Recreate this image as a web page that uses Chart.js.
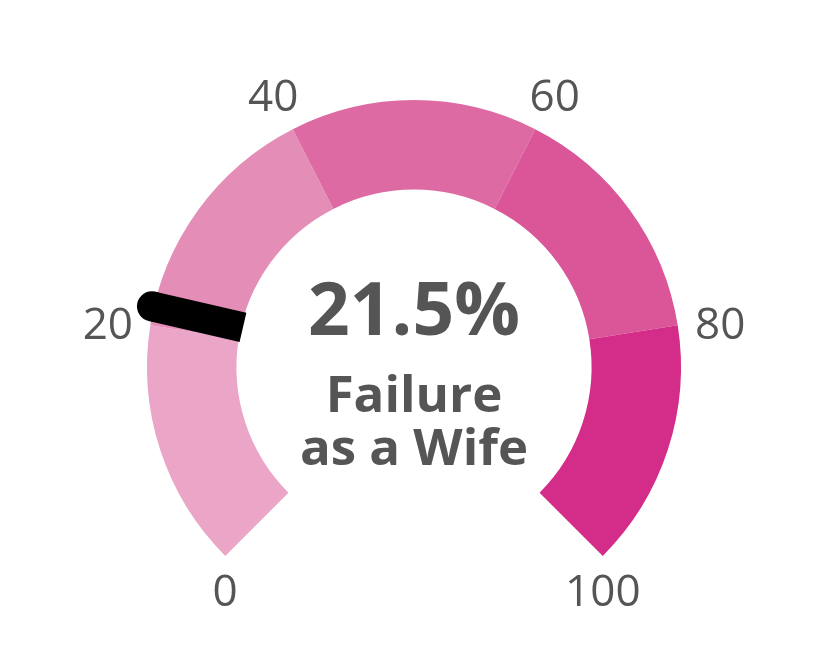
<!DOCTYPE html>
<html>
<head>
<meta charset="utf-8">
<script src="https://cdn.jsdelivr.net/npm/chart.js@4"></script>
<style>
  body { margin: 0; background: #fff; }
  #wrap { width: 828px; height: 672px; }
</style>
</head>
<body>
<div id="wrap"><canvas id="gauge"></canvas></div>
<script>
// gauge data
var bands = [20, 20, 20, 20, 20];
var bandColors = ["#EAA5C7", "#E38DB7", "#DE6AA3", "#DA5698", "#D42D89"];
var tickValues = [0, 20, 40, 60, 80, 100];
var gaugeValue = 21.5;
var centerLines = ["Failure", "as a Wife"];

var ROT = -135, CIRC = 270, MAXV = 100;
var textColor = "#555555";

function angleOf(v) {
  // canvas angle in radians (0 = right, clockwise)
  return ((ROT + v / MAXV * CIRC) - 90) * Math.PI / 180;
}

var gaugeExtras = {
  id: "gaugeExtras",
  afterDatasetsDraw: function (chart) {
    var ctx = chart.ctx;
    var arc = chart.getDatasetMeta(0).data[0];
    var cx = arc.x, cy = arc.y, ro = arc.outerRadius, ri = arc.innerRadius;

    // needle
    var a = angleOf(gaugeValue);
    var tipR = ro + 2;
    ctx.save();
    ctx.strokeStyle = "#000";
    ctx.lineWidth = 30;
    ctx.lineCap = "butt";
    ctx.beginPath();
    ctx.moveTo(cx + Math.cos(a) * (ri - 2), cy + Math.sin(a) * (ri - 2));
    ctx.lineTo(cx + Math.cos(a) * tipR, cy + Math.sin(a) * tipR);
    ctx.stroke();
    ctx.fillStyle = "#000";
    ctx.beginPath();
    ctx.arc(cx + Math.cos(a) * tipR, cy + Math.sin(a) * tipR, 15, 0, Math.PI * 2);
    ctx.fill();

    // tick labels
    ctx.fillStyle = textColor;
    ctx.font = "44px 'Open Sans'";
    ctx.textAlign = "center";
    ctx.textBaseline = "middle";
    tickValues.forEach(function (v) {
      var t = angleOf(v);
      var x, y;
      if (v === 0 || v === MAXV) {
        x = cx + Math.cos(t) * ro;
        y = cy + Math.sin(t) * ro + 38;
      } else {
        x = cx + Math.cos(t) * (ro + 43);
        y = cy + Math.sin(t) * (ro + 43) + 8;
      }
      ctx.fillText(String(v), x, y);
    });

    // centre text
    ctx.font = "bold 73px 'Open Sans'";
    ctx.textBaseline = "alphabetic";
    ctx.fillText(gaugeValue + "%", cx, 335);
    ctx.font = "bold 51px 'Open Sans'";
    ctx.fillText(centerLines[0], cx, 412);
    ctx.fillText(centerLines[1], cx, 465);
    ctx.restore();
  }
};

new Chart("gauge", {
  type: "doughnut",
  data: {
    labels: ["0-20", "20-40", "40-60", "60-80", "80-100"],
    datasets: [{
      data: bands,
      backgroundColor: bandColors,
      borderWidth: 0
    }]
  },
  options: {
    responsive: true,
    maintainAspectRatio: false,
    animation: false,
    rotation: ROT,
    circumference: CIRC,
    cutout: "66.5%",
    layout: { padding: { left: 147, right: 147, top: 100, bottom: 116 } },
    plugins: {
      legend: { display: false },
      tooltip: { enabled: false }
    }
  },
  plugins: [gaugeExtras]
});
</script>
</body>
</html>
